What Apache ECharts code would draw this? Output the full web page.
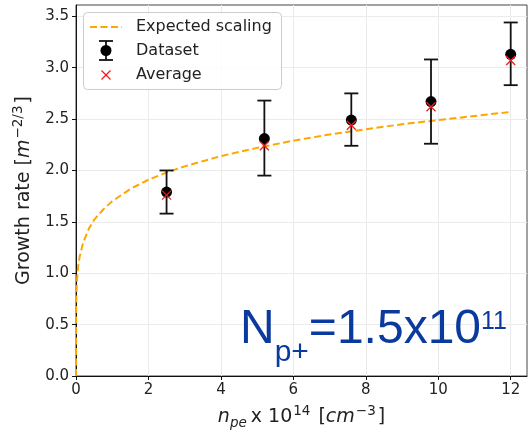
<!DOCTYPE html>
<html><head><meta charset="utf-8">
<script src="https://cdn.jsdelivr.net/npm/echarts@6/dist/echarts.min.js"></script>
<style>html,body{margin:0;padding:0;background:#fff}#c{width:528px;height:436px}</style>
</head><body><div id="c"></div>
<script>
// Measured growth rates per electron density (x 10^14 cm^-3)
const densities   = [2.5, 5.2, 7.6, 9.8, 12.0];
const datasetMean = [1.79, 2.31, 2.49, 2.67, 3.13];
const errLow      = [1.58, 1.95, 2.24, 2.26, 2.83];
const errHigh     = [2.00, 2.68, 2.75, 3.08, 3.44];
const averages    = [1.76, 2.24, 2.44, 2.62, 3.07];

// Expected scaling curve, sampled
const curveX = [0, 0.003, 0.01, 0.03, 0.06, 0.1, 0.2, 0.35, 0.5, 0.75, 1, 1.5, 2, 2.5, 3, 4, 5, 6, 7, 8, 9, 10, 11, 12];
const curveY = [0, 0.64, 0.79, 0.95, 1.07, 1.16, 1.30, 1.43, 1.52, 1.62, 1.70, 1.82, 1.91, 1.98, 2.04, 2.14, 2.22, 2.29, 2.35, 2.40, 2.45, 2.49, 2.53, 2.57];

const xTicks = [0, 2, 4, 6, 8, 10, 12];
const yTicks = [0, 0.5, 1, 1.5, 2, 2.5, 3, 3.5];

const FONT = 'DejaVu Sans';
const INK = '#222';
const chart = echarts.init(document.getElementById('c'), null, {renderer: 'canvas'});

const errData = densities.map((x, i) => [x, errLow[i], errHigh[i]]);
const meanData = densities.map((x, i) => [x, datasetMean[i]]);
const avgData = densities.map((x, i) => [x, averages[i]]);
const curveData = curveX.map((x, i) => [x, curveY[i]]);

function cross(cx, cy, h, color, w, z) {
  return [
    {type: 'line', z: z, shape: {x1: cx - h, y1: cy - h, x2: cx + h, y2: cy + h}, style: {stroke: color, lineWidth: w}},
    {type: 'line', z: z, shape: {x1: cx - h, y1: cy + h, x2: cx + h, y2: cy - h}, style: {stroke: color, lineWidth: w}}
  ];
}

const titleRich = {
  t: {fontFamily: FONT, fontSize: 19, color: INK, lineHeight: 26},
  i: {fontFamily: FONT, fontStyle: 'italic', fontSize: 19, color: INK, lineHeight: 26},
  sub: {fontFamily: FONT, fontStyle: 'italic', fontSize: 13.5, color: INK, verticalAlign: 'bottom', lineHeight: 16, padding: [0, 4, 0, 0]},
  sup: {fontFamily: FONT, fontSize: 13.5, color: INK, verticalAlign: 'top', lineHeight: 16, padding: [0, 2, 0, 1]}
};

const option = {
  animation: false,
  grid: {left: 76, right: 1, top: 5, bottom: 60, show: true, borderColor: '#444', borderWidth: 1},
  xAxis: {
    type: 'value', min: 0, max: 12.45, interval: 2,
    axisLine: {show: true, onZero: false, lineStyle: {color: '#111', width: 1}},
    axisTick: {show: true, length: 4, customValues: xTicks, lineStyle: {color: '#111'}},
    axisLabel: {customValues: xTicks, color: INK, fontFamily: FONT, fontSize: 15, margin: 7},
    splitLine: {show: true, lineStyle: {color: '#ebebeb', width: 1}},
    name: '{i|n}{sub|pe}{t|x 10}{sup|14}{t| [}{i|cm}{sup|−3}{t|]}',
    nameLocation: 'middle', nameGap: 28,
    nameTextStyle: {rich: titleRich}
  },
  yAxis: {
    type: 'value', min: 0, max: 3.61, interval: 0.5,
    axisLine: {show: true, lineStyle: {color: '#111', width: 1}},
    axisTick: {show: true, length: 4, customValues: yTicks, lineStyle: {color: '#111'}},
    axisLabel: {customValues: yTicks, color: INK, fontFamily: FONT, fontSize: 15, margin: 7,
      formatter: v => v.toFixed(1)},
    splitLine: {show: true, lineStyle: {color: '#ebebeb', width: 1}},
    name: '{t|Growth rate [}{i|m}{sup|−2/3}{t|]}',
    nameLocation: 'middle', nameGap: 39,
    nameTextStyle: {rich: titleRich}
  },
  series: [
    {
      type: 'line', data: curveData, showSymbol: false, smooth: false, z: 2,
      lineStyle: {color: '#ffa500', width: 2, type: [7, 3.5]}
    },
    {
      type: 'custom', data: errData, z: 3,
      renderItem: function (params, api) {
        const x = api.value(0);
        const lo = api.coord([x, api.value(1)]);
        const hi = api.coord([x, api.value(2)]);
        const cap = 7, s = {stroke: '#111', lineWidth: 1.8};
        return {type: 'group', children: [
          {type: 'line', shape: {x1: lo[0], y1: lo[1], x2: hi[0], y2: hi[1]}, style: s},
          {type: 'line', shape: {x1: hi[0] - cap, y1: hi[1], x2: hi[0] + cap, y2: hi[1]}, style: s},
          {type: 'line', shape: {x1: lo[0] - cap, y1: lo[1], x2: lo[0] + cap, y2: lo[1]}, style: s}
        ]};
      }
    },
    {
      type: 'scatter', data: meanData, symbol: 'circle', symbolSize: 11, z: 4,
      itemStyle: {color: '#000', opacity: 1}
    },
    {
      type: 'custom', data: avgData, z: 5,
      renderItem: function (params, api) {
        const p = api.coord([api.value(0), api.value(1)]);
        return {type: 'group', children: cross(p[0], p[1], 4.5, '#ee1c1c', 1.3)};
      }
    }
  ],
  graphic: [
    // legend
    {type: 'rect', shape: {x: 83.5, y: 12.5, width: 198, height: 77, r: 4},
      style: {fill: 'rgba(255,255,255,0.85)', stroke: '#cccccc', lineWidth: 1}, z: 10},
    {type: 'line', shape: {x1: 90, y1: 27, x2: 122, y2: 27},
      style: {stroke: '#ffa500', lineWidth: 2, lineDash: [7, 3.5]}, z: 11},
    {type: 'text', x: 136, y: 27, style: {text: 'Expected scaling', fontFamily: FONT, fontSize: 16, fill: INK, verticalAlign: 'middle'}, z: 11},
    {type: 'line', shape: {x1: 106, y1: 41, x2: 106, y2: 60}, style: {stroke: '#111', lineWidth: 1.8}, z: 11},
    {type: 'line', shape: {x1: 99, y1: 41, x2: 113, y2: 41}, style: {stroke: '#111', lineWidth: 1.8}, z: 11},
    {type: 'line', shape: {x1: 99, y1: 60, x2: 113, y2: 60}, style: {stroke: '#111', lineWidth: 1.8}, z: 11},
    {type: 'circle', shape: {cx: 106, cy: 50.5, r: 5.5}, style: {fill: '#000'}, z: 11},
    {type: 'text', x: 136, y: 51, style: {text: 'Dataset', fontFamily: FONT, fontSize: 16, fill: INK, verticalAlign: 'middle'}, z: 11},
    ...cross(106, 75, 4.5, '#ee1c1c', 1.3, 11),
    {type: 'text', x: 136, y: 75, style: {text: 'Average', fontFamily: FONT, fontSize: 16, fill: INK, verticalAlign: 'middle'}, z: 11},
    // beam population annotation
    {type: 'text', x: 240, y: 300, z: 12, style: {
      text: '{m|N}{sub|p+}{m|=1.5x10}{sup|11}',
      rich: {
        m: {fontFamily: 'Liberation Sans', fontSize: 48, fill: '#0a3a9e', lineHeight: 60},
        sub: {fontFamily: 'Liberation Sans', fontSize: 30, fill: '#0a3a9e', lineHeight: 18, verticalAlign: 'top', padding: [38, 0, 0, 0]},
        sup: {fontFamily: 'Liberation Sans', fontSize: 25, fill: '#0a3a9e', lineHeight: 46, verticalAlign: 'top', padding: [10, 0, 0, 0]}
      }
    }}
  ]
};
chart.setOption(option);
</script>
</body></html>
